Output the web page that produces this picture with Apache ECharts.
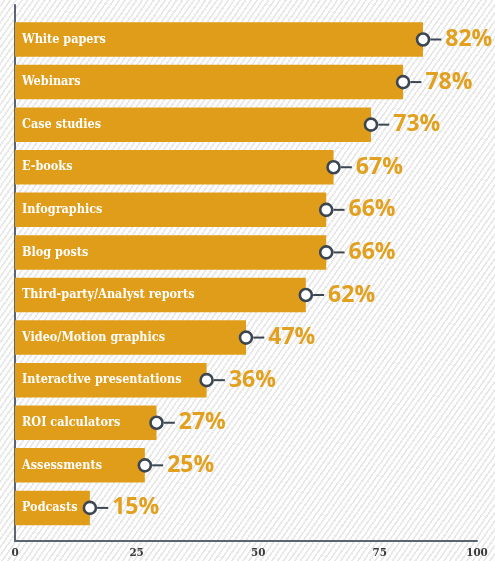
<!DOCTYPE html>
<html>
<head>
<meta charset="utf-8">
<script src="https://cdn.jsdelivr.net/npm/echarts@6/dist/echarts.min.js"></script>
<style>
html,body{margin:0;padding:0;background:#fff;}
#chart{width:495px;height:561px;
background:repeating-linear-gradient(125deg,#ffffff 0px,#ffffff 3px,#e8e8e8 3px,#e8e8e8 4.7px);}
</style>
</head>
<body>
<div id="chart"></div>
<script>
// Categories, top to bottom
const categories = ["White papers","Webinars","Case studies","E-books","Infographics","Blog posts","Third-party/Analyst reports","Video/Motion graphics","Interactive presentations","ROI calculators","Assessments","Podcasts"];
// Bar lengths as drawn, read against the axis ticks (0, 25, 50, 75)
const barValues = [83.9,79.8,73.2,65.5,64.0,64.0,59.8,47.5,39.4,29.1,26.7,15.4];
// Percent labels printed at the bar ends
const pctLabels = [82,78,73,67,66,66,62,47,36,27,25,15];
// Axis tick labels and the axis values where they sit
const tickValues = [0,25,50,75,95];
const tickLabels = ["0","25","50","75","100"];
const axisMax = 95;

const BAR = '#e09d1a';
const DARK = '#3b4651';
const AXIS = '#5b6571';
const SERIF = 'DejaVu Serif Condensed, DejaVu Serif, serif';

const chart = echarts.init(document.getElementById('chart'), null, {renderer:'canvas'});
chart.setOption({
  backgroundColor: 'transparent',
  animation: false,
  grid: [
    {left:15, right:18, top:18.2, bottom:31.8},
    {left:15, right:18, top:5, bottom:20}
  ],
  xAxis: [
    {gridIndex:0, type:'value', min:0, max:axisMax, show:false},
    {gridIndex:1, type:'value', min:0, max:axisMax,
     axisLine:{show:true, onZero:false, lineStyle:{color:AXIS, width:2}},
     axisTick:{show:false}, splitLine:{show:false},
     axisLabel:{customValues:tickValues, margin:6,
       formatter:(v)=>{const i=tickValues.indexOf(v);return i>=0?tickLabels[i]:'';},
       color:'#3a3a3a', fontSize:11.5, fontWeight:'bold', fontFamily:SERIF}}
  ],
  yAxis: [
    {gridIndex:0, type:'category', data:categories, inverse:true, show:false},
    {gridIndex:1, type:'value', min:0, max:1,
     axisLine:{show:true, onZero:false, lineStyle:{color:AXIS, width:2}},
     axisTick:{show:false}, axisLabel:{show:false}, splitLine:{show:false}}
  ],
  series: [
    {type:'bar', xAxisIndex:0, yAxisIndex:0, data:barValues, barCategoryGap:'19%',
     itemStyle:{color:BAR},
     label:{show:true, position:'insideLeft', distance:7,
       formatter:(p)=>categories[p.dataIndex],
       color:'#ffffff', fontSize:12.5, fontWeight:'bold', fontFamily:SERIF}},
    {type:'scatter', xAxisIndex:0, yAxisIndex:0, z:5,
     data: barValues.map((v,i)=>[v, categories[i]]),
     symbol:'circle', symbolSize:12,
     itemStyle:{color:'#ffffff', borderColor:DARK, borderWidth:2.6, opacity:1},
     label:{show:true, position:'right', distance:0,
       formatter:(p)=>'{line|}{pct|'+pctLabels[p.dataIndex]+'%}',
       rich:{
         line:{width:11, height:2, backgroundColor:DARK},
         pct:{fontSize:23, fontWeight:'bold', color:'#e3a01e', fontFamily:'Open Sans', padding:[0,0,0,4]}
       }}}
  ]
});
</script>
</body>
</html>
